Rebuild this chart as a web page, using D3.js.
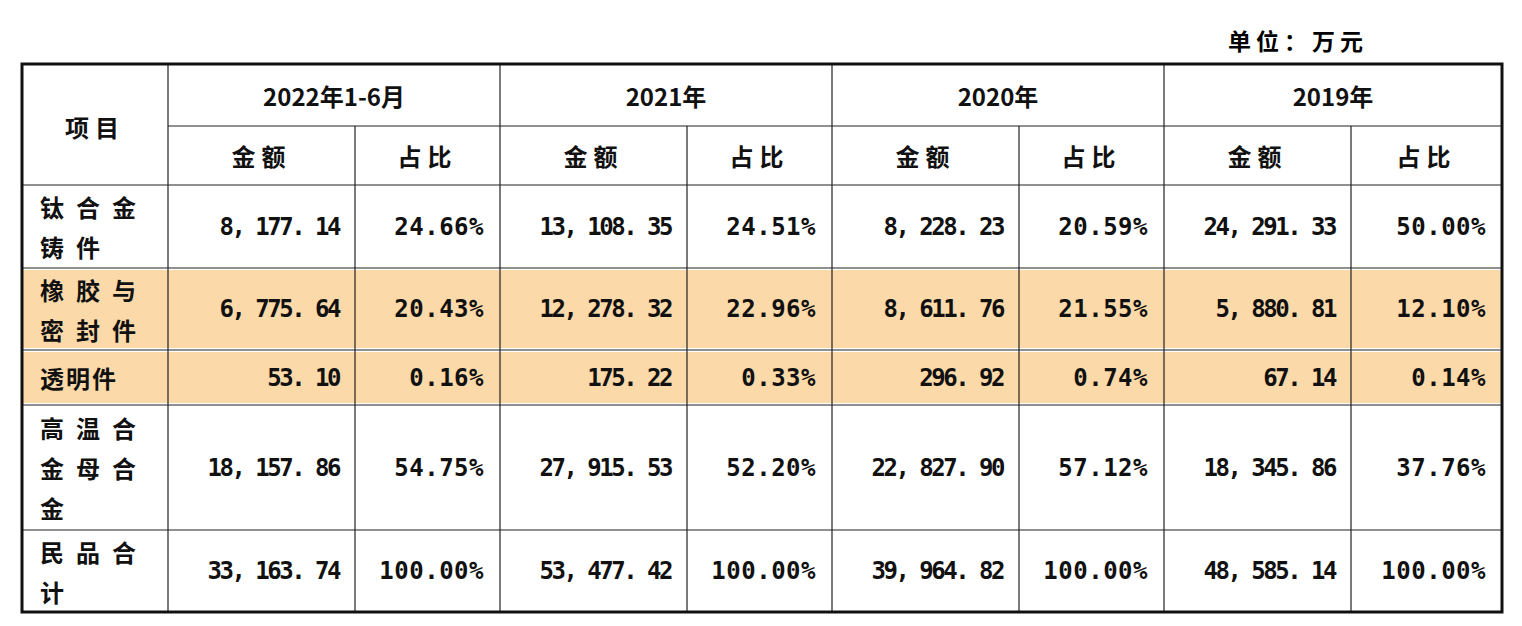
<!DOCTYPE html>
<html><head><meta charset="utf-8">
<script src="https://cdn.jsdelivr.net/npm/d3@7"></script>
<style>body{margin:0;background:#fff}</style>
</head><body>
<svg id="c" width="1522" height="626"></svg>
<script>
// 表データ
const periods = ["2022年1-6月", "2021年", "2020年", "2019年"];
const items = [["钛合金", "铸件"], ["橡胶与", "密封件"], ["透明件"], ["高温合", "金母合", "金"], ["民品合", "计"]];
const amounts = [
  [8177.14, 13108.35, 8228.23, 24291.33],
  [6775.64, 12278.32, 8611.76, 5880.81],
  [53.10, 175.22, 296.92, 67.14],
  [18157.86, 27915.53, 22827.90, 18345.86],
  [33163.74, 53477.42, 39964.82, 48585.14]
];
const shares = [
  [24.66, 24.51, 20.59, 50.00],
  [20.43, 22.96, 21.55, 12.10],
  [0.16, 0.33, 0.74, 0.14],
  [54.75, 52.20, 57.12, 37.76],
  [100, 100, 100, 100]
];
const highlighted = [1, 2];

const svg = d3.select("#c");
const colX = [22, 168, 355, 500, 687, 832, 1019, 1164, 1351, 1502];
const rowY = [64, 126, 185, 268, 350, 405, 530, 612];
const font = "'Noto Sans CJK SC', sans-serif";
const numFont = "'DejaVu Sans Mono', monospace";
const fmt = d3.format(",.2f");

svg.append("text").attr("x", 1368).attr("y", 50).attr("text-anchor", "end")
  .attr("font-family", font).attr("font-size", 23).attr("font-weight", 700)
  .attr("letter-spacing", 5).text("单位：万元");

// ハイライト行
highlighted.forEach(r => {
  svg.append("rect").attr("x", colX[0]).attr("y", rowY[r + 2] + 2)
    .attr("width", colX[9] - colX[0]).attr("height", rowY[r + 3] - rowY[r + 2] - 4)
    .attr("fill", "#fcd9a9");
});

// 罫線
const line = (x1, y1, x2, y2, w) => svg.append("line").attr("x1", x1).attr("y1", y1)
  .attr("x2", x2).attr("y2", y2).attr("stroke", "#222").attr("stroke-width", w || 1.2);
line(colX[1], rowY[1], colX[9], rowY[1]);
rowY.slice(2, 7).forEach(y => line(colX[0], y, colX[9], y));
colX.slice(1, 9).forEach((x, i) => {
  const y0 = (i % 2 === 1) ? rowY[1] : rowY[0];
  line(x, y0, x, rowY[7]);
});
svg.append("rect").attr("x", colX[0]).attr("y", rowY[0]).attr("width", colX[9] - colX[0])
  .attr("height", rowY[7] - rowY[0]).attr("fill", "none").attr("stroke", "#111").attr("stroke-width", 3);

const txt = (x, y, s, anchor, f, ls) => svg.append("text").attr("x", x).attr("y", y)
  .attr("text-anchor", anchor || "middle").attr("dominant-baseline", "central")
  .attr("font-family", f || font).attr("font-size", 24).attr("font-weight", 700)
  .attr("letter-spacing", ls || 0).attr("fill", "#111").text(s);

// 見出し
txt(95, 126, "项目", "middle", font, 6);
periods.forEach((p, i) => {
  txt((colX[1 + 2 * i] + colX[3 + 2 * i]) / 2, 95, p);
  txt((colX[1 + 2 * i] + colX[2 + 2 * i]) / 2, 155, "金额", "middle", font, 6);
  txt((colX[2 + 2 * i] + colX[3 + 2 * i]) / 2, 155, "占比", "middle", font, 6);
});

// 本文
items.forEach((lines, r) => {
  const y0 = rowY[r + 2], y1 = rowY[r + 3], cy = (y0 + y1) / 2;
  lines.forEach((l, k) => {
    txt(40, cy + (k - (lines.length - 1) / 2) * 40, l, "start", font, lines.length > 1 ? 12 : 2);
  });
  amounts[r].forEach((v, i) => {
    txt(colX[2 + 2 * i] - 16, cy, fmt(v).replace(/,/g, ", ").replace(".", ". "), "end", numFont, -2.5);
    txt(colX[3 + 2 * i] - 16, cy, shares[r][i].toFixed(2) + "%", "end", numFont, 0.5);
  });
});
</script>
</body></html>
